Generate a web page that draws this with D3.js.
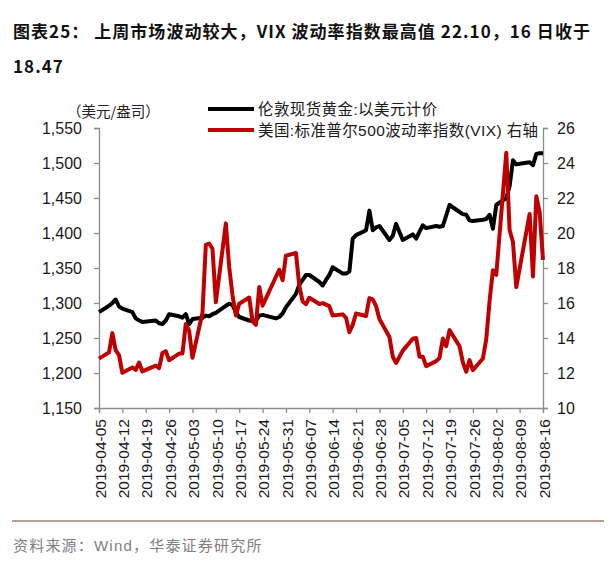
<!DOCTYPE html>
<html><head><meta charset="utf-8">
<script src="https://cdn.jsdelivr.net/npm/d3@7"></script>
<style>
body{margin:0;background:#fff;}
svg{display:block;}
</style></head>
<body><svg id="c" width="615" height="562"></svg>
<script>
const dates = ["2019-04-05","2019-04-08","2019-04-09","2019-04-10","2019-04-11","2019-04-12","2019-04-15","2019-04-16","2019-04-17","2019-04-18","2019-04-22","2019-04-23","2019-04-24","2019-04-25","2019-04-26","2019-04-29","2019-04-30","2019-05-01","2019-05-02","2019-05-03","2019-05-06","2019-05-07","2019-05-08","2019-05-09","2019-05-10","2019-05-13","2019-05-14","2019-05-15","2019-05-16","2019-05-17","2019-05-20","2019-05-21","2019-05-22","2019-05-23","2019-05-24","2019-05-28","2019-05-29","2019-05-30","2019-05-31","2019-06-03","2019-06-04","2019-06-05","2019-06-06","2019-06-07","2019-06-10","2019-06-11","2019-06-12","2019-06-13","2019-06-14","2019-06-17","2019-06-18","2019-06-19","2019-06-20","2019-06-21","2019-06-24","2019-06-25","2019-06-26","2019-06-27","2019-06-28","2019-07-01","2019-07-02","2019-07-03","2019-07-05","2019-07-08","2019-07-09","2019-07-10","2019-07-11","2019-07-12","2019-07-15","2019-07-16","2019-07-17","2019-07-18","2019-07-19","2019-07-22","2019-07-23","2019-07-24","2019-07-25","2019-07-26","2019-07-29","2019-07-30","2019-07-31","2019-08-01","2019-08-02","2019-08-05","2019-08-06","2019-08-07","2019-08-08","2019-08-09","2019-08-12","2019-08-13","2019-08-14","2019-08-15","2019-08-16"];
const goldValues = [1287,1296,1300,1305,1295,1292,1287,1278,1275,1273,1275,1271,1270,1275,1284,1281,1279,1284,1270,1277,1279,1282,1281,1284,1286,1296,1299,1297,1287,1280,1275,1274,1275,1282,1283,1278,1280,1285,1294,1313,1326,1333,1340,1340,1330,1325,1333,1340,1351,1342,1342,1345,1392,1397,1404,1432,1404,1408,1410,1390,1396,1413,1390,1398,1392,1402,1411,1407,1410,1409,1410,1425,1440,1430,1427,1426,1418,1417,1419,1420,1426,1406,1440,1450,1467,1504,1498,1499,1501,1497,1513,1514,1514];
const vixValues = [12.82,13.18,14.28,13.30,13.02,12.01,12.32,12.18,12.60,12.09,12.42,12.28,13.14,13.25,12.73,13.11,13.12,14.80,14.42,12.87,15.44,19.32,19.40,19.10,16.04,20.55,18.06,16.44,15.29,15.96,16.31,14.95,14.75,16.92,15.85,17.50,17.90,17.30,18.71,18.86,16.97,16.09,15.93,16.30,15.94,15.99,15.91,15.82,15.28,15.35,15.15,14.33,14.75,15.40,15.26,16.28,16.21,15.82,15.08,14.06,12.93,12.57,13.28,13.96,14.00,12.93,12.93,12.39,12.68,12.86,13.97,13.53,14.45,13.53,12.61,12.07,12.74,12.16,12.83,13.94,16.12,17.87,17.61,24.59,20.17,19.49,16.91,17.97,21.09,17.52,22.10,21.18,18.47];
const tickLabels = ["2019-04-05","2019-04-12","2019-04-19","2019-04-26","2019-05-03","2019-05-10","2019-05-17","2019-05-24","2019-05-31","2019-06-07","2019-06-14","2019-06-21","2019-06-28","2019-07-05","2019-07-12","2019-07-19","2019-07-26","2019-08-02","2019-08-09","2019-08-16"];
const leftTicks = [1150,1200,1250,1300,1350,1400,1450,1500,1550];
const rightTicks = [10,12,14,16,18,20,22,24,26];
const seriesNames = ["伦敦现货黄金:以美元计价","美国:标准普尔500波动率指数(VIX) 右轴"];

const parse = d3.utcParse("%Y-%m-%d");
const svg = d3.select("#c");
const L = 99, R = 543, T = 128, B = 408;
const x = d3.scaleUtc().domain([parse(tickLabels[0]), parse(tickLabels[tickLabels.length-1])]).range([L, R]);
const yL = d3.scaleLinear().domain([1150,1550]).range([B,T]);
const yR = d3.scaleLinear().domain([10,26]).range([B,T]);
const latin = "'Liberation Sans', Arial, 'Noto Sans CJK SC', sans-serif";
const cjk = "'Noto Sans CJK SC', sans-serif";

// title
svg.append("text").attr("x",13).attr("y",38).attr("font-family",cjk).attr("font-weight","bold").attr("font-size",17).attr("letter-spacing",1.05).attr("fill","#111")
  .text("图表25：  上周市场波动较大，VIX 波动率指数最高值 22.10，16 日收于");
svg.append("text").attr("x",13).attr("y",73).attr("font-family",cjk).attr("font-weight","bold").attr("font-size",17).attr("letter-spacing",1.05).attr("fill","#111").text("18.47");

// unit
svg.append("text").attr("x",67).attr("y",117).attr("font-family",cjk).attr("font-size",14.5).attr("fill","#222").text("（美元/盎司）");

// axes
const axisColor = "#8c8c8c";
const gl = svg.append("g").attr("transform",`translate(${L},0)`).call(d3.axisLeft(yL).tickValues(leftTicks).tickFormat(d3.format(",")).tickSize(5).tickPadding(12));
const gr = svg.append("g").attr("transform",`translate(${R},0)`).call(d3.axisRight(yR).tickValues(rightTicks).tickFormat(d3.format("d")).tickSize(5).tickPadding(9));
const gb = svg.append("g").attr("transform",`translate(0,${B})`).call(d3.axisBottom(x).tickValues(tickLabels.map(parse)).tickFormat(d3.utcFormat("%Y-%m-%d")).tickSize(5));
[gl,gr,gb].forEach(g=>{
  g.selectAll("path,line").attr("stroke",axisColor).attr("stroke-width",1.3);
  g.selectAll("text").attr("font-family",latin).attr("font-size",16).attr("fill","#1a1a1a");
});
gb.selectAll("text").attr("font-size",15.5).attr("transform","rotate(-90)").attr("text-anchor","end").attr("x",-11).attr("y",0).attr("dy","0.4em");

// lines
const goldData = dates.map((d,i)=>({d:parse(d),v:goldValues[i]}));
const vixData = dates.map((d,i)=>({d:parse(d),v:vixValues[i]}));
svg.append("path").datum(goldData).attr("fill","none").attr("stroke","#000").attr("stroke-width",4).attr("stroke-linejoin","round")
  .attr("d",d3.line().x(d=>x(d.d)).y(d=>yL(d.v)));
svg.append("path").datum(vixData).attr("fill","none").attr("stroke","#c00000").attr("stroke-width",4).attr("stroke-linejoin","round")
  .attr("d",d3.line().x(d=>x(d.d)).y(d=>yR(d.v)));

// legend
const leg = [{c:"#000",y:109,t:seriesNames[0]},{c:"#c00000",y:130,t:seriesNames[1]}];
leg.forEach(l=>{
  svg.append("line").attr("x1",208).attr("x2",254).attr("y1",l.y).attr("y2",l.y).attr("stroke",l.c).attr("stroke-width",4);
  svg.append("text").attr("x",258).attr("y",l.y+5.5).attr("font-family",latin).attr("font-size",15.5).attr("letter-spacing",0.4).attr("fill","#1a1a1a").text(l.t);
});

// footer
svg.append("line").attr("x1",12).attr("x2",604).attr("y1",521).attr("y2",521).attr("stroke","#7a3b36").attr("stroke-width",1.2);
svg.append("text").attr("x",13).attr("y",551).attr("font-family",latin).attr("font-size",15).attr("letter-spacing",1.2).attr("fill","#808080").text("资料来源：Wind，华泰证券研究所");
</script></body></html>
